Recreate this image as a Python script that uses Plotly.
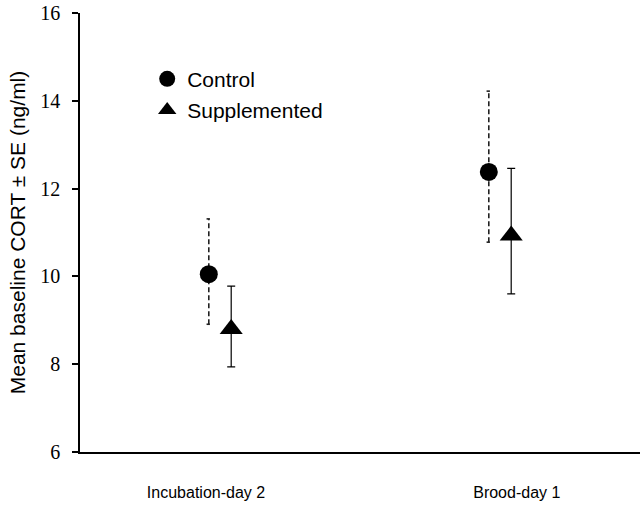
import plotly.graph_objects as go

categories = ["Incubation-day 2", "Brood-day 1"]
control_mean = [10.05, 12.38]
control_upper = [11.31, 14.22]
control_lower = [8.91, 10.78]
supp_mean = [8.80, 10.93]
supp_upper = [9.78, 12.46]
supp_lower = [7.94, 9.60]
yticks = [6, 8, 10, 12, 14, 16]

cat_pos = [1, 2]
ctrl_x = [p - 0.04 for p in cat_pos]
supp_x = [p + 0.04 for p in cat_pos]
label_x = [0.95, 2.06]

fig = go.Figure()

# dashed error bars for Control (drawn as line segments from data)
cap = 0.008
ex, ey = [], []
for x, lo, hi in zip(ctrl_x, control_lower, control_upper):
    ex += [x, x, None, x - cap, x + cap / 2, None, x - cap, x + cap / 2, None]
    ey += [lo, hi, None, hi, hi, None, lo, lo, None]
fig.add_trace(go.Scatter(x=ex, y=ey, mode="lines", showlegend=False, hoverinfo="skip",
                         line=dict(color="#222222", width=1.6, dash="5px,3px")))

fig.add_trace(go.Scatter(
    x=ctrl_x, y=control_mean, mode="markers", name="Control", legendgroup="c",
    marker=dict(symbol="circle", size=18, color="black"),
))
fig.add_trace(go.Scatter(
    x=supp_x, y=supp_mean, mode="markers", name="Supplemented", legendgroup="s",
    marker=dict(symbol="triangle-up", size=20, color="black"),
    error_y=dict(type="data", symmetric=False,
                 array=[u - m for u, m in zip(supp_upper, supp_mean)],
                 arrayminus=[m - l for l, m in zip(supp_lower, supp_mean)],
                 color="black", thickness=1.2, width=4),
))

fig.update_layout(
    width=644, height=513,
    margin=dict(l=80, r=4, t=13, b=61),
    plot_bgcolor="white", paper_bgcolor="white",
    showlegend=True,
    legend=dict(x=0.12, y=0.896, xanchor="left", yanchor="top",
                font=dict(family="Liberation Sans, Arial", size=21, color="black"),
                bgcolor="rgba(0,0,0,0)", tracegroupgap=1, traceorder="grouped",
                itemwidth=30),
    xaxis=dict(range=[0.5, 2.5], tickvals=label_x, ticktext=categories,
               showgrid=False, zeroline=False, showline=True, linecolor="black",
               linewidth=1.5, ticks="", ticklabelstandoff=25, automargin=False,
               tickfont=dict(family="Liberation Sans, Arial", size=16, color="black")),
    yaxis=dict(range=[6, 16], tickvals=yticks, showgrid=False, zeroline=False,
               showline=True, linecolor="black", linewidth=1.5, automargin=False,
               ticks="outside", ticklen=6, tickcolor="black", tickwidth=1.5,
               ticklabelstandoff=8, ticklabeloverflow="allow",
               tickfont=dict(family="Liberation Serif, Times New Roman", size=20, color="black"),
               title=dict(text="Mean baseline CORT ± SE (ng/ml)", standoff=9,
                          font=dict(family="Liberation Sans, Arial", size=21, color="black"))),
)

fig.write_html("out.html", config={"displayModeBar": False},
               post_script="document.body.style.margin='0';")
